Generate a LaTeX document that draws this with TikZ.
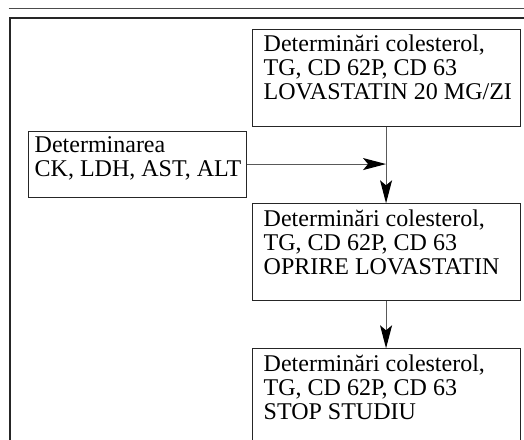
\documentclass[tikz,border=0pt]{standalone}
\usepackage{fontspec}
\setmainfont{Liberation Serif}
\usetikzlibrary{arrows.meta}

\begin{document}
\begin{tikzpicture}[x=1pt,y=1pt]
        \tikzstyle{every node}+=[inner sep=0pt]
        \tikzstyle{stage}=[draw=black!85, line width=1.1pt, anchor=north west, minimum width=268pt, minimum height=96.5pt]
        \tikzstyle{lines}=[anchor=north west, align=left, xshift=12pt, yshift=-6pt, font=\fontsize{24}{24}\selectfont]
        \tikzstyle{flow}=[draw=black!65, line width=1.1pt, -{Stealth[length=23pt,width=12pt,inset=5pt,color=black]}]
        \useasboundingbox (0,0) rectangle (524,-439);
        \draw [black!70, line width=1.8pt] (8.5,-8.5) -- (524,-8.5);
        \draw [black!85, line width=2pt] (9.5,-450) -- (9.5,-17.5) -- (530,-17.5);
        \node [stage] (lova) at (251.5,-29) {};
        \node [lines] (lovatext) at (lova.north west) {Determinări colesterol,\\TG, CD 62P, CD 63\\LOVASTATIN 20 MG/ZI};
        \node [stage, minimum width=218pt, minimum height=66pt] (enz) at (27.5,-130.5) {};
        \node [lines, xshift=-5pt] (enztext) at (enz.north west) {Determinarea\\CK, LDH, AST, ALT};
        \node [stage] (oprire) at (251.5,-203.3) {};
        \node [lines] (opriretext) at (oprire.north west) {Determinări colesterol,\\TG, CD 62P, CD 63\\OPRIRE LOVASTATIN};
        \node [stage] (stop) at (251.5,-348.3) {};
        \node [lines] (stoptext) at (stop.north west) {Determinări colesterol,\\TG, CD 62P, CD 63\\STOP STUDIU};
        \coordinate (join) at (enz.east -| lova.south);
        \draw [flow] (enz.east) -- (join);
        \draw [flow] (lova.south) -- (oprire.north);
        \draw [flow] (oprire.south) -- (stop.north);
\end{tikzpicture}
\end{document}
